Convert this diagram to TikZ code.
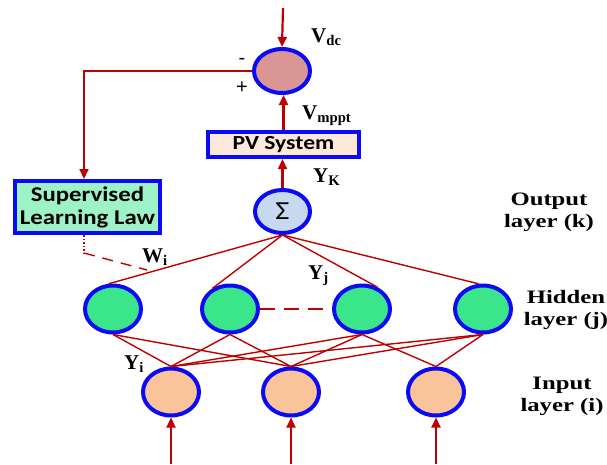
\documentclass[tikz,border=0pt]{standalone}
\usepackage{fontspec}
\setmainfont{Liberation Serif}
\newfontfamily\layerfont{Liberation Serif}[FakeStretch=1.3]
\newfontfamily\boxfont{Carlito}[FakeStretch=1.18]
\newfontfamily\signfont{Liberation Sans}
\usetikzlibrary{arrows.meta,shapes.geometric}
\definecolor{rd}{HTML}{C00000}
\definecolor{bl}{HTML}{0A0AF5}
\definecolor{sumfill}{HTML}{D99694}
\definecolor{sigfill}{HTML}{C6D9F1}
\definecolor{pvfill}{HTML}{FDE9D9}
\definecolor{supfill}{HTML}{9EF2C8}
\definecolor{hidfill}{HTML}{3BE68A}
\definecolor{inpfill}{HTML}{F9C499}
\begin{document}
\begin{tikzpicture}[x=1pt,y=-1pt,
 neuron/.style={ellipse,draw=bl,line width=4pt,minimum width=56pt,minimum height=47pt,inner sep=0pt},
 box/.style={rectangle,draw=bl,line width=4pt,inner sep=0pt},
 link/.style={draw=rd,line width=1.4pt},
 arr/.style={draw=rd,line width=2.2pt,-{Triangle[length=10pt,width=9pt]}},
 sym/.style={font=\bfseries\fontsize{21}{21}\selectfont,inner sep=0pt},
 sign/.style={font=\signfont\fontsize{20}{20}\selectfont,inner sep=0pt},
 layer/.style={font=\layerfont\bfseries\fontsize{19}{22}\selectfont,align=center,inner sep=0pt}]
\useasboundingbox (0,0) rectangle (607,464);
% main nodes
\node[neuron,fill=sumfill,minimum width=56pt,minimum height=44pt] (sum) at (282,71) {};
\node[box,fill=pvfill,minimum width=151pt,minimum height=25pt,font=\boxfont\bfseries\fontsize{20}{20}\selectfont] (pv) at (283.5,144.5) {PV System};
\node[neuron,fill=sigfill,minimum width=55pt,minimum height=43pt,font=\boxfont\fontsize{26}{26}\selectfont] (sig) at (282.5,211.5) {Σ};
\node[box,fill=supfill,minimum width=145pt,minimum height=52pt,align=center,font=\boxfont\bfseries\fontsize{21}{23}\selectfont] (sup) at (87.5,207) {Supervised\\Learning Law};
\foreach \i/\x in {1/113,2/230,3/362,4/483} \node[neuron,fill=hidfill] (h\i) at (\x,309) {};
\foreach \i/\x in {1/171,2/291,3/436} \node[neuron,fill=inpfill] (in\i) at (\x,392) {};
% connectors
\coordinate (top) at (283,8);
\coordinate (bottom) at (0,464);
\coordinate (wb) at (84,253);
\coordinate (we) at (147,270);
\draw[arr] (top) -- (sum.north);
\draw[arr] (pv.north) -- (pv.north |- sum.south);
\draw[arr] (sig.north) -- (sig.north |- pv.south);
\draw[arr,line width=1.8pt] (sum.west) -| ([xshift=-3.5pt]sup.north);
\draw[draw=rd,line width=1.5pt,dotted] ([xshift=-3.5pt]sup.south) -- (wb);
\draw[link,dash pattern=on 11pt off 8pt] (wb) -- (we);
\foreach \t in {h1.100,h2.130,h3.55,h4.100} \draw[link] (sig.south) -- (\t);
\foreach \a/\b in {1/1,1/2,2/1,2/2,3/1,3/2,3/3,4/1,4/2,4/3} \draw[link] (h\a.south) -- (in\b.north);
\draw[link,dash pattern=on 15pt off 9pt] (h2.east) -- (h3.west);
\foreach \i in {1,2,3} {
  \coordinate (s\i) at (in\i.south |- bottom);
  \draw[arr] (s\i) -- (in\i.south);
}
% labels
\node[sym,anchor=base west] (vdc) at (311,42) {V\textsubscript{dc}};
\node[sym,anchor=base west] (vmppt) at (302,119) {V\textsubscript{mppt}};
\node[sym,anchor=base west] (yk) at (313,182) {Y\textsubscript{K}};
\node[sym,anchor=base west] (yj) at (308,279) {Y\textsubscript{j}};
\node[sym,anchor=base west] (wi) at (142,262) {W\textsubscript{i}};
\node[sym,anchor=base west] (yi) at (124,369) {Y\textsubscript{i}};
\node[sign] (minus) at (242,61) {-};
\node[sign] (plus) at (242,88) {+};
\node[layer] (outl) at (549,212) {Output\\layer (k)};
\node[layer] (hidl) at (566,310) {Hidden\\layer (j)};
\node[layer] (inpl) at (562,396) {Input\\layer (i)};
\end{tikzpicture}
\end{document}
